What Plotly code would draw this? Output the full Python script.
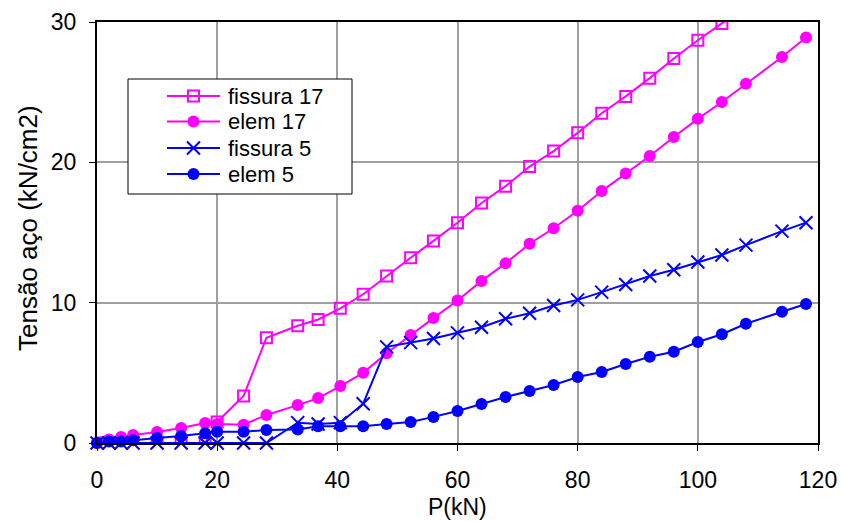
import plotly.graph_objects as go

# Load steps P (kN)
P = [0, 2, 4, 6, 10, 14, 18, 20, 24.4, 28.2,
     33.4, 36.8, 40.5, 44.3, 48.2, 52.2, 56, 60, 64, 68,
     72, 76, 80, 84, 88, 92, 96, 100, 104, 108,
     114, 118]

# Steel stress (kN/cm2) per series
fissura_17 = [0, 0, 0, 0, 0, 0, 0, 1.5, 3.35, 7.5,
              8.35, 8.8, 9.6, 10.6, 11.9, 13.2, 14.4, 15.7, 17.1, 18.3,
              19.7, 20.8, 22.1, 23.5, 24.7, 26.0, 27.4, 28.7, 29.9, 31.1]
elem_17 = [0, 0.25, 0.43, 0.57, 0.78, 1.07, 1.43, 1.35, 1.3, 2.0,
           2.7, 3.2, 4.06, 5.0, 6.4, 7.7, 8.9, 10.15, 11.55, 12.8,
           14.2, 15.3, 16.55, 17.95, 19.2, 20.45, 21.8, 23.1, 24.3, 25.6,
           27.5, 28.9]
fissura_5 = [0, 0, 0, 0, 0, 0, 0, 0, 0, 0,
             1.45, 1.35, 1.45, 2.8, 6.85, 7.15, 7.45, 7.85, 8.25, 8.85,
             9.25, 9.8, 10.2, 10.75, 11.3, 11.9, 12.35, 12.9, 13.4, 14.1,
             15.1, 15.7]
elem_5 = [0, 0.1, 0.1, 0.2, 0.35, 0.5, 0.7, 0.8, 0.8, 0.93,
          0.97, 1.2, 1.2, 1.2, 1.35, 1.5, 1.86, 2.28, 2.78, 3.28,
          3.7, 4.13, 4.7, 5.06, 5.63, 6.15, 6.5, 7.2, 7.75, 8.5,
          9.35, 9.9]

series_names = ["fissura 17", "elem 17", "fissura 5", "elem 5"]
x_title = "P(kN)"
y_title = "Tensão aço (kN/cm2)"

MAGENTA = "#FF00FF"
BLUE = "#0000FF"
FONT = "Liberation Sans, Arial, sans-serif"

styles = {
    "fissura 17": dict(color=MAGENTA, symbol="square-open", size=11, clip=True),
    "elem 17": dict(color=MAGENTA, symbol="circle", size=12, clip=False),
    "fissura 5": dict(color=BLUE, symbol="x-thin", size=13, clip=False),
    "elem 5": dict(color=BLUE, symbol="circle", size=12, clip=False),
}
values = {"fissura 17": fissura_17, "elem 17": elem_17,
          "fissura 5": fissura_5, "elem 5": elem_5}


def marker_for(st):
    m = dict(symbol=st["symbol"], size=st["size"], color=st["color"])
    if st["symbol"] in ("square-open", "x-thin"):
        m["line"] = dict(width=2, color=st["color"])
    return m


fig = go.Figure()
for name in series_names:
    st = styles[name]
    ys = values[name]
    fig.add_trace(go.Scatter(
        x=P[:len(ys)], y=ys, name=name, mode="lines+markers",
        line=dict(color=st["color"], width=2),
        marker=marker_for(st), cliponaxis=st["clip"], showlegend=False))

# Legend drawn on a pixel-scaled overlay axis pair
LEG_BOX = (128, 352, 79, 194)
LEG_ROWS = [96, 121.5, 148, 174]
LEG_LINE = (167, 220)
LEG_TEXT_X = 226

bx0, bx1, by0, by1 = LEG_BOX
fig.add_trace(go.Scatter(
    x=[bx0, bx1, bx1, bx0, bx0], y=[by0, by0, by1, by1, by0],
    xaxis="x2", yaxis="y2", mode="lines", fill="toself", fillcolor="white",
    line=dict(color="black", width=1), showlegend=False, hoverinfo="skip"))

for name, ry in zip(series_names, LEG_ROWS):
    st = styles[name]
    fig.add_trace(go.Scatter(
        x=[LEG_LINE[0], LEG_LINE[1]], y=[ry, ry], xaxis="x2", yaxis="y2",
        mode="lines", line=dict(color=st["color"], width=2),
        showlegend=False, hoverinfo="skip"))
    fig.add_trace(go.Scatter(
        x=[(LEG_LINE[0] + LEG_LINE[1]) / 2], y=[ry], xaxis="x2", yaxis="y2",
        mode="markers", marker=marker_for(st), cliponaxis=False,
        showlegend=False, hoverinfo="skip"))
    fig.add_annotation(
        x=LEG_TEXT_X, y=ry, xref="x2", yref="y2", text=name, showarrow=False,
        xanchor="left", yanchor="middle",
        font=dict(family=FONT, size=22, color="black"))

# Axis titles
fig.add_annotation(x=0.5, y=-(507 - 443) / 421, xref="paper", yref="paper",
                   text=x_title, showarrow=False, xanchor="center", yanchor="middle",
                   font=dict(family=FONT, size=23, color="black"))
fig.add_annotation(x=(28 - 97) / 721, y=(443 - 228) / 421, xref="paper", yref="paper",
                   text=y_title, showarrow=False, textangle=-90,
                   xanchor="center", yanchor="middle",
                   font=dict(family=FONT, size=26, color="black"))

axis_common = dict(
    showgrid=True, gridcolor="#A0A0A0", gridwidth=2,
    showline=True, linecolor="black", linewidth=2, mirror=True,
    ticks="outside", ticklen=6, tickcolor="black", tickwidth=1,
    zeroline=False, automargin=False,
    tickfont=dict(family=FONT, size=23, color="black"),
)

fig.update_layout(
    width=841, height=521,
    margin=dict(l=97, r=23, t=22, b=78),
    paper_bgcolor="white", plot_bgcolor="white",
    font=dict(family=FONT, color="black"),
    xaxis=dict(range=[0, 120], dtick=20, ticklabelstandoff=9, **axis_common),
    yaxis=dict(range=[0, 30], dtick=10, ticklabelstandoff=8, **axis_common),
    xaxis2=dict(overlaying="x", anchor="y2", range=[97, 818], visible=False, fixedrange=True),
    yaxis2=dict(overlaying="y", anchor="x2", range=[443, 22], visible=False, fixedrange=True),
    showlegend=False,
)

fig.write_html("out.html")
